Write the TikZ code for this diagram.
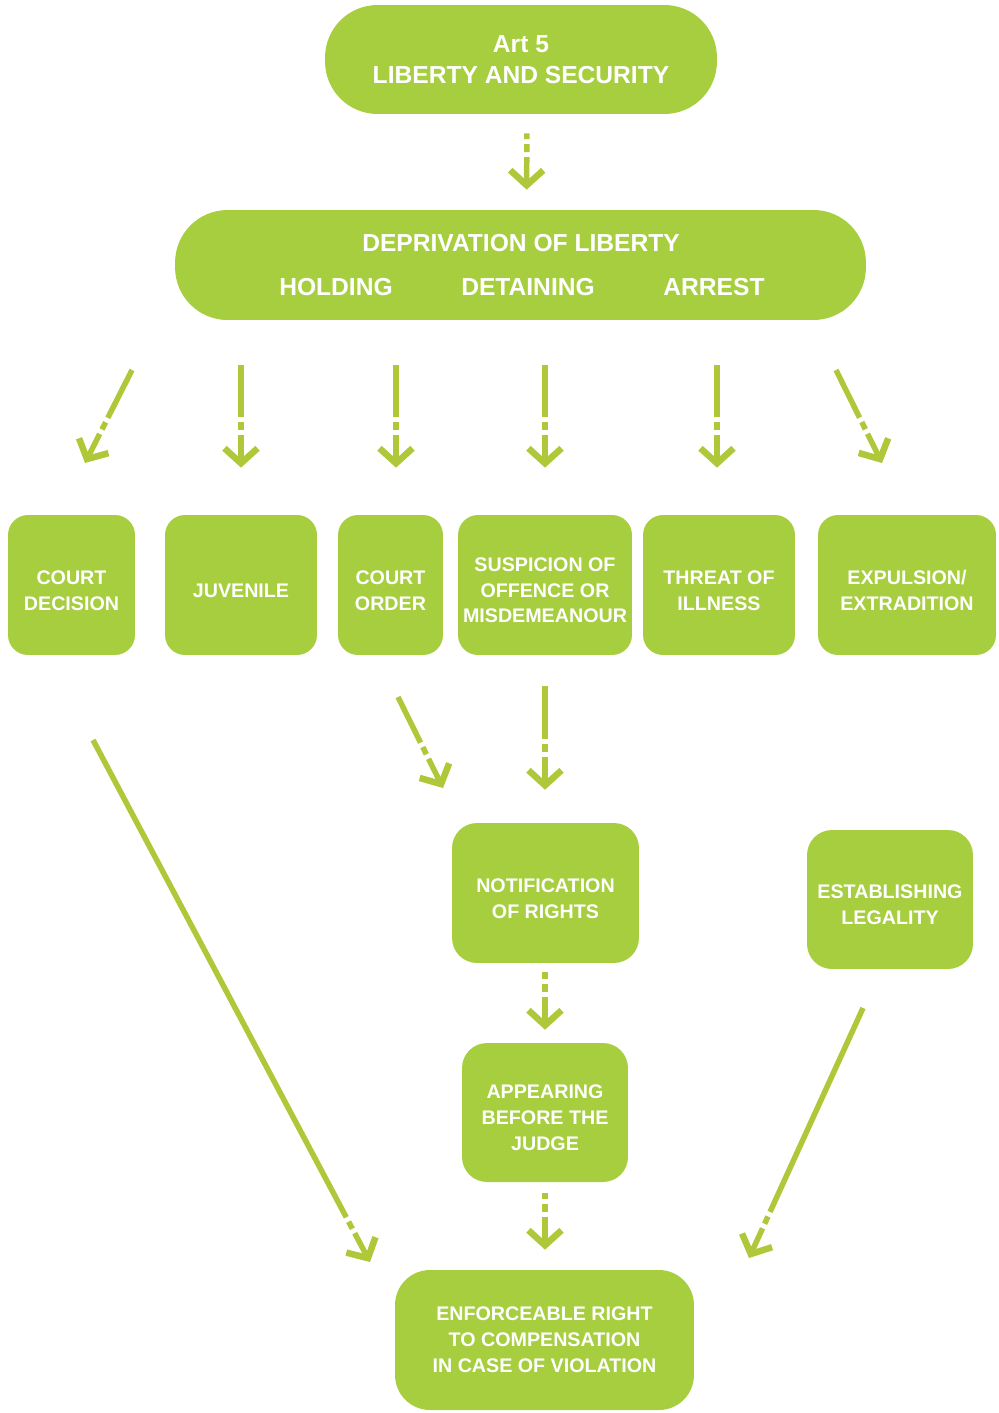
\documentclass[tikz,border=0pt]{standalone}
\usepackage{fontspec}
\setmainfont{Liberation Sans}
\usetikzlibrary{arrows.meta}
\definecolor{boxgreen}{HTML}{A6CE3E}
\definecolor{arrowgreen}{HTML}{AEC83A}
% box text sits a little below the box centre
\newcommand\lowtext[1]{\raisebox{-0.14cm}[\height][\depth]{\begin{tabular}{@{}c@{}}#1\end{tabular}}}
\tikzset{
  box/.style={fill=boxgreen, text=white, font=\bfseries\fontsize{11.2}{14.7}\selectfont,
    align=center, rounded corners=0.4cm, inner sep=0pt},
  pill/.style={box, font=\bfseries\fontsize{14}{18}\selectfont, rounded corners=1.05cm},
  pilltext/.style={text=white, font=\bfseries\fontsize{14}{18}\selectfont, inner sep=0pt},
  flow/.style={draw=arrowgreen, line width=0.11cm,
    {Straight Barb[length=0.3cm,width=0.66cm,line width=0.13cm]}-,
    dash pattern=on 0.5cm off 0.1cm on 0.16cm off 0.1cm on 30cm},
}
\begin{document}
\begin{tikzpicture}[x=0.02cm, y=-0.02cm]
			\useasboundingbox (0,0) rectangle (999,1413);

			% Top
			\node[pill, minimum width=7.84cm, minimum height=2.18cm] (art) at (521,59.5) {Art 5\\LIBERTY AND SECURITY};
			\node[pill, minimum width=13.82cm, minimum height=2.2cm] (dep) at (520.5,265) {};
			\node[pilltext] (deptitle) at (521,243) {DEPRIVATION OF LIBERTY};
			\node[pilltext] (holding) at (336,287) {HOLDING};
			\node[pilltext] (detaining) at (528,287) {DETAINING};
			\node[pilltext] (arrest) at (714,287) {ARREST};

			% Grounds
			\node[box, minimum width=2.54cm, minimum height=2.8cm] (cdec) at (71.5,585) {\lowtext{COURT\\DECISION}};
			\node[box, minimum width=3.04cm, minimum height=2.8cm] (juv) at (241,585) {\lowtext{JUVENILE}};
			\node[box, minimum width=2.1cm, minimum height=2.8cm] (cord) at (390.5,585) {\lowtext{COURT\\ORDER}};
			\node[box, minimum width=3.48cm, minimum height=2.8cm] (susp) at (545,585) {\lowtext{SUSPICION OF\\OFFENCE OR\\MISDEMEANOUR}};
			\node[box, minimum width=3.04cm, minimum height=2.8cm] (threat) at (719,585) {\lowtext{THREAT OF\\ILLNESS}};
			\node[box, minimum width=3.56cm, minimum height=2.8cm] (expul) at (907,585) {\lowtext{EXPULSION/\\EXTRADITION}};

			% Lower boxes
			\node[box, minimum width=3.74cm, minimum height=2.8cm, rounded corners=0.5cm] (notif) at (545.5,893) {\lowtext{NOTIFICATION\\OF RIGHTS}};
			\node[box, minimum width=3.32cm, minimum height=2.78cm, rounded corners=0.5cm] (legal) at (890,899.5) {\lowtext{ESTABLISHING\\LEGALITY}};
			\node[box, minimum width=3.32cm, minimum height=2.78cm, rounded corners=0.5cm] (judge) at (545,1112.5) {\lowtext{APPEARING\\BEFORE THE\\JUDGE}};
			\node[box, minimum width=5.98cm, minimum height=2.8cm, rounded corners=0.7cm] (comp) at (544.5,1340) {ENFORCEABLE RIGHT\\TO COMPENSATION\\IN CASE OF VIOLATION};

			% Free ends of the slanted arrows
			\coordinate (cdec-tip) at (85,463);
			\coordinate (cdec-tail) at (132,370);
			\coordinate (expul-tip) at (882,463);
			\coordinate (expul-tail) at (836,370);
			\coordinate (cord-tip) at (443,788);
			\coordinate (cord-tail) at (398,697);
			\coordinate (long-tip) at (370,1262);
			\coordinate (long-tail) at (93,740);
			\coordinate (legal-tip) at (749,1258);
			\coordinate (legal-tail) at (863,1008);

			% Arrows
			\draw[flow, shorten <=0.4cm, shorten >=0.38cm] ([xshift=0.12cm]dep.north) -- ([xshift=0.12cm]art.south);
			\draw[flow] (cdec-tip) -- (cdec-tail);
			\draw[flow, shorten <=0.94cm, shorten >=0.9cm] (juv.north) -- (juv.north |- dep.south);
			\draw[flow, shorten <=0.94cm, shorten >=0.9cm] ([xshift=0.11cm]cord.north) -- ([xshift=0.11cm]cord.north |- dep.south);
			\draw[flow, shorten <=0.94cm, shorten >=0.9cm] (susp.north) -- (susp.north |- dep.south);
			\draw[flow, shorten <=0.94cm, shorten >=0.9cm] ([xshift=-0.04cm]threat.north) -- ([xshift=-0.04cm]threat.north |- dep.south);
			\draw[flow] (expul-tip) -- (expul-tail);
			\draw[flow] (cord-tip) -- (cord-tail);
			\draw[flow, shorten <=0.66cm, shorten >=0.62cm] (notif.north -| susp.south) -- (susp.south);
			\draw[flow, shorten <=0.26cm, shorten >=0.18cm] (judge.north) -- (judge.north |- notif.south);
			\draw[flow, shorten <=0.4cm, shorten >=0.22cm] (comp.north -| judge.south) -- (judge.south);
			\draw[flow] (long-tip) -- (long-tail);
			\draw[flow] (legal-tip) -- (legal-tail);
		\end{tikzpicture}
\end{document}
